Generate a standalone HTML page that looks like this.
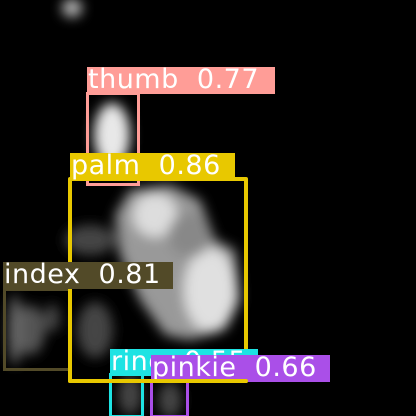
<!DOCTYPE html>
<html><head><meta charset="utf-8"><style>
html,body{margin:0;padding:0;background:#000;}
#c{position:relative;width:416px;height:416px;overflow:hidden;background:#000;font-family:"DejaVu Sans","Liberation Sans",sans-serif;}
.box{position:absolute;box-sizing:border-box;}
.lab{position:absolute;color:#fff;font-size:27px;line-height:29px;white-space:pre;padding-left:1px;box-sizing:border-box;overflow:hidden;letter-spacing:0.5px;}
.lab span{display:inline-block;position:relative;top:-2px;}
</style></head><body>
<div id="c">
<svg width="416" height="416" style="position:absolute;left:0;top:0">
<defs><filter id="b" x="-50%" y="-50%" width="200%" height="200%"><feGaussianBlur stdDeviation="6"/></filter></defs>
<g filter="url(#b)">
<ellipse cx="72" cy="8" rx="10" ry="9" fill="#bbb"/>
<ellipse cx="112" cy="135" rx="18" ry="32" fill="#e8e8e8"/>
<polygon points="130,190 170,185 200,200 215,240 235,250 240,300 225,330 190,340 165,335 140,300 120,255 115,215" fill="#999"/>
<ellipse cx="155" cy="215" rx="22" ry="22" fill="#ddd"/>
<ellipse cx="210" cy="290" rx="26" ry="42" fill="#e0e0e0"/>
<ellipse cx="190" cy="235" rx="22" ry="22" fill="#888"/>
<ellipse cx="90" cy="240" rx="25" ry="15" fill="#444"/>
<ellipse cx="30" cy="330" rx="15" ry="25" fill="#555"/>
<ellipse cx="15" cy="330" rx="7" ry="35" fill="#666"/>
<ellipse cx="52" cy="318" rx="8" ry="14" fill="#444"/>
<ellipse cx="95" cy="330" rx="18" ry="28" fill="#444"/>
<ellipse cx="130" cy="395" rx="12" ry="20" fill="#444"/>
<ellipse cx="170" cy="400" rx="12" ry="18" fill="#444"/>
</g>
</svg>
<div class="box" style="left:3px;top:288px;width:68px;height:83px;border:3px solid #524a28;"></div>
<div class="box" style="left:86px;top:92px;width:54px;height:94px;border:3px solid #ff9d97;"></div>
<div class="box" style="left:68px;top:177px;width:180px;height:206px;border:4px solid #e8c800;border-radius:2px;"></div>
<div class="lab" style="left:87px;top:67px;width:188px;height:27px;background:#ff9d97;"><span>thumb  0.77</span></div>
<div class="lab" style="left:70px;top:153px;width:165px;height:27px;background:#e8c800;"><span>palm  0.86</span></div>
<div class="lab" style="left:3px;top:262px;width:170px;height:27px;background:#524a28;"><span>index  0.81</span></div>
<div class="box" style="left:109px;top:373px;width:35px;height:45px;border:3px solid #1ee3e3;"></div>
<div class="lab" style="left:110px;top:349px;width:148px;height:27px;background:#1ee3e3;"><span>ring  0.55</span></div>
<div class="box" style="left:150px;top:380px;width:39px;height:38px;border:3px solid #aa4fe8;"></div>
<div class="lab" style="left:151px;top:355px;width:179px;height:27px;background:#aa4fe8;"><span>pinkie  0.66</span></div>
<div class="box" style="left:68px;top:379px;width:180px;height:4px;background:#e8c800;border-radius:2px;"></div>
</div>
</body></html>
